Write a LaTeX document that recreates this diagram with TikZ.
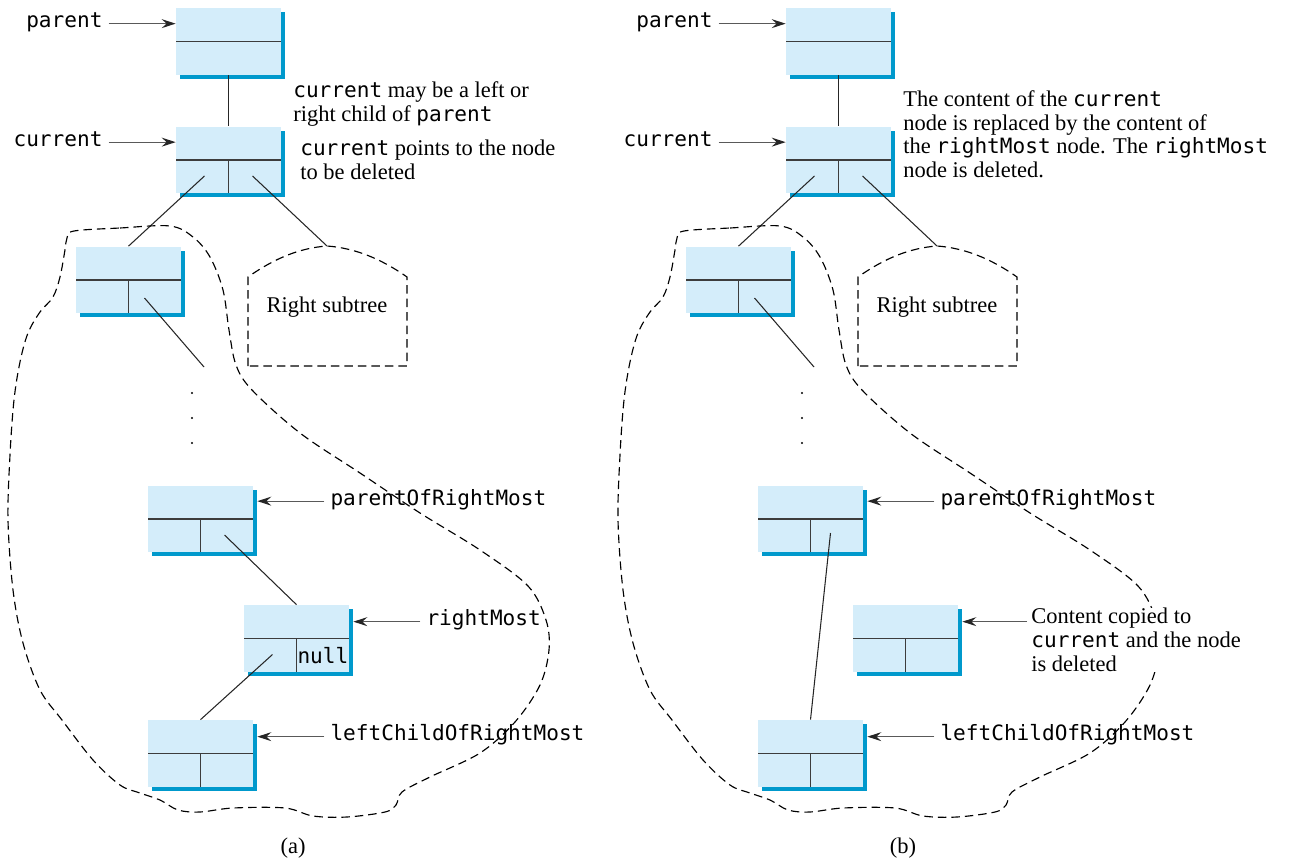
\documentclass[tikz,border=0pt]{standalone}
\usepackage{fontspec}
\setmainfont{Liberation Serif}
\setmonofont{DejaVu Sans Mono}
\usepackage{tikz}
\usetikzlibrary{
  arrows.meta,
  positioning,
  calc,
  shadows
}
\definecolor{boxblue}{RGB}{212,237,250}
\definecolor{shadeblue}{RGB}{0,153,204}
\definecolor{inkgray}{RGB}{60,60,60}
\newcommand{\code}[1]{{\fontsize{12}{13.6}\selectfont\ttfamily #1}}

\begin{document}
\begin{tikzpicture}[
  x=0.02cm, y=-0.02cm,
  font=\fontsize{12.8}{13.6}\selectfont,
  topnode/.style={
    rectangle, fill=boxblue, minimum width=2.1cm, minimum height=1.34cm, inner sep=0pt,
    drop shadow={shadow xshift=0.08cm, shadow yshift=-0.08cm, fill=shadeblue, opacity=1},
    path picture={\draw[inkgray, line width=0.9pt]
      (path picture bounding box.west) -- (path picture bounding box.east);}
  },
  tnode/.style={
    topnode,
    path picture={\draw[inkgray, line width=0.9pt]
      (path picture bounding box.west) -- (path picture bounding box.east)
      (path picture bounding box.center) -- (path picture bounding box.south);}
  },
  link/.style={black!85, line width=0.6pt},
  ptr/.style={-{Stealth[length=0.28cm, width=0.18cm, inset=0.1cm, color=black!85]}, black!65, line width=0.7pt},
  lbl/.style={font=\fontsize{12}{13.6}\selectfont\ttfamily},
  note/.style={align=left, inner sep=0pt},
  subtree/.style={dash pattern=on 0.17cm off 0.1cm, line width=0.65pt},
  node distance=1.34cm
]
  \useasboundingbox (0,0) rectangle (1293,861);

  \foreach \p/\dx in {a/0, b/610} {
    \begin{scope}[xshift=\dx*0.02cm]
      \node[topnode] (\p-par)   at (228.5,41.5) {};
      \node[tnode]   (\p-cur)   at (228.5,160)  {};
      \node[tnode]   (\p-lc)    at (128.5,280)  {};
      \node[tnode]   (\p-porm)  at (200.5,519)  {};
      \node[tnode]   (\p-lcorm) at (200.5,753.5) {};

      \coordinate (\p-parin)   at ($(\p-par.north west)+(0,16)$);
      \coordinate (\p-curin)   at ($(\p-cur.north west)+(0,16)$);
      \coordinate (\p-pormin)  at ($(\p-porm.north east)+(4,16)$);
      \coordinate (\p-lcormin) at ($(\p-lcorm.north east)+(4,17)$);

      \node[lbl, left=of \p-parin, anchor=mid east]    (\p-parlbl)   {parent};
      \node[lbl, left=of \p-curin, anchor=mid east]    (\p-curlbl)   {current};
      \node[lbl, right=of \p-pormin, anchor=mid west]  (\p-pormlbl)  {parentOfRightMost};
      \node[lbl, right=of \p-lcormin, anchor=mid west] (\p-lcormlbl) {leftChildOfRightMost};

      \draw[ptr] (\p-parlbl.mid east)   -- (\p-parin);
      \draw[ptr] (\p-curlbl.mid east)   -- (\p-curin);
      \draw[ptr] (\p-pormlbl.mid west)  -- (\p-pormin);
      \draw[ptr] (\p-lcormlbl.mid west) -- (\p-lcormin);

      \coordinate (\p-rtop) at (327,246);
      \coordinate (\p-gap)  at (204,367);
      \node (\p-rst) at (327,307) {Right subtree};
      \draw[subtree] (248,366) -- (248,277)
        .. controls (275,258) and (300,248) .. (\p-rtop)
        .. controls (354,248) and (380,258) .. (407,277) -- (407,366) -- cycle;

      \draw[link] (\p-par) -- (\p-cur);
      \draw[link] ($(\p-cur.center)+(-24,16)$) -- (\p-lc.north);
      \draw[link] ($(\p-cur.center)+(24,16)$)  -- (\p-rtop);
      \draw[link] ($(\p-lc.center)+(16,18)$)   -- (\p-gap);
      \foreach \yy in {393,418,443}
        \fill (192,\yy) circle (0.7pt);

      \draw[subtree] plot[smooth cycle, tension=0.55] coordinates {
        (74,231) (120,228) (170,226) (193,237) (210,257) (223,290) (229,330)
        (236,365) (252,390) (300,433) (360,473) (420,513) (480,550) (528,586)
        (546,620) (549,650) (540,685) (515,722) (480,753) (430,777) (402,792)
        (396,805) (385,812) (347,817) (313,816) (285,808) (233,808) (200,812)
        (178,810) (160,800) (140,793) (120,785) (93,760) (62,720) (40,690)
        (23,643) (13,590) (8,520) (10,455) (14,400) (20,362) (28,333) (40,312)
        (53,297) (60,277) (65,250) (67,238)};
    \end{scope}
  }

  \node[tnode] (a-rm) at (296.5,638.5) {};
  \node[lbl, inner sep=0pt] (a-null) at ($(a-rm.center)!0.5!(a-rm.south east)$) {null};
  \coordinate (a-rmin) at ($(a-rm.north east)+(4,17)$);
  \node[lbl, right=of a-rmin, anchor=mid west] (a-rmlbl) {rightMost};
  \draw[ptr] (a-rmlbl.mid west) -- (a-rmin);
  \draw[link] ($(a-porm.center)+(24,16)$) -- (a-rm.north);
  \draw[link] ($(a-rm.center)+(-24,16)$) -- (a-lcorm.north);

  \node[note, anchor=north west] (a-note1) at (293,81)
    {\code{current} may be a left or\\right child of \code{parent}};
  \node[note, anchor=north west] (a-note2) at (300,140)
    {\code{current} points to the node\\to be deleted};

  \node[tnode] (b-rm) at (905.5,638.5) {};
  \coordinate (b-rmin) at ($(b-rm.north east)+(4,17)$);
  \node[note, fill=white, anchor=north west] (b-rmnote) at (1031,608)
    {Content copied to\\\code{current} and the node\\is deleted};
  \draw[ptr] ($(b-rmnote.north west |- b-rmin)+(-4,0)$) -- (b-rmin);
  \draw[link] ($(b-porm.center)+(20,14)$) -- (b-lcorm.north);

  \node[note, anchor=north west] (b-note) at (903,90)
    {The content of the \code{current}\\node is replaced by the content of\\the \code{rightMost} node. The \code{rightMost}\\node is deleted.};

  \node (a-cap) at (293,848) {(a)};
  \node (b-cap) at (903,848) {(b)};
\end{tikzpicture}
\end{document}
